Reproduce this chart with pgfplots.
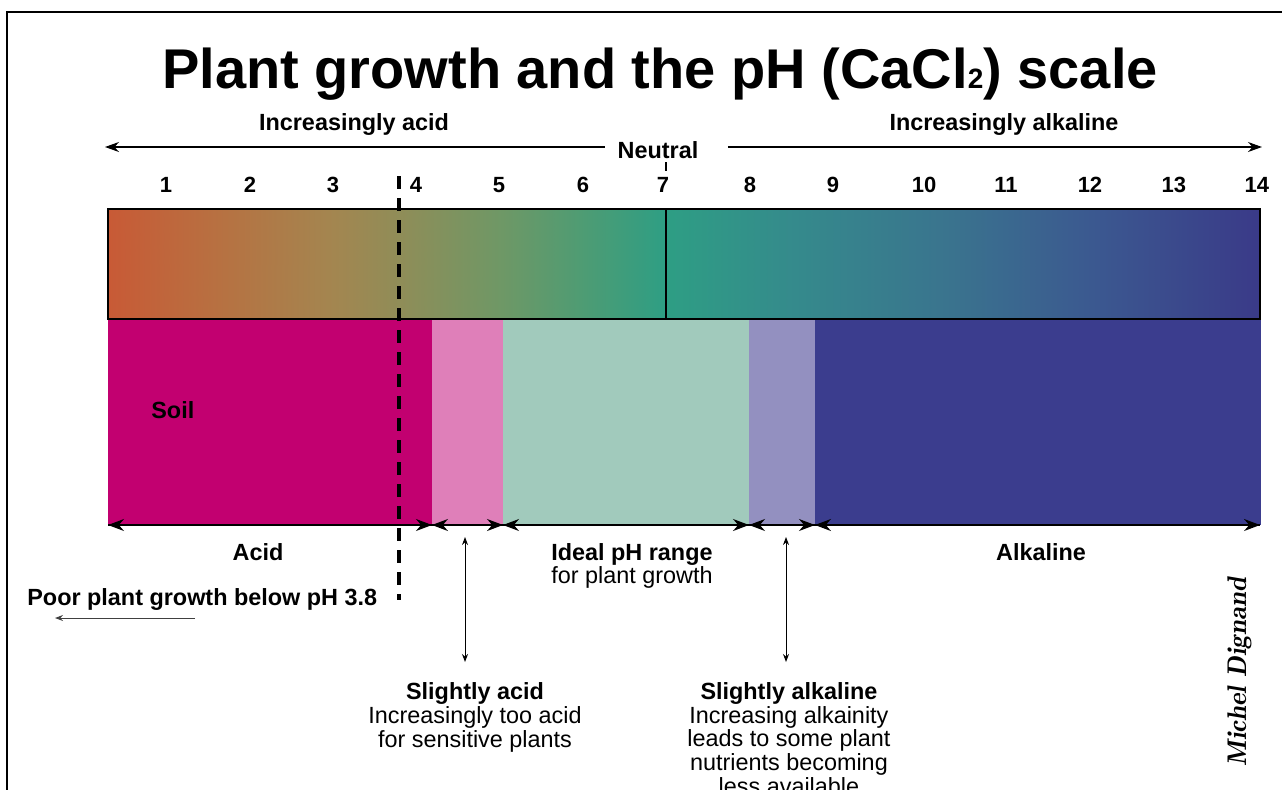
\documentclass[border=0pt]{standalone}
\usepackage{fontspec}
\setmainfont{Liberation Sans}
\usepackage{pgfplots}
\pgfplotsset{compat=1.18}
\usetikzlibrary{arrows.meta}
\definecolor{acidc}{HTML}{C20070}
\definecolor{slacidc}{HTML}{DF7FB9}
\definecolor{idealc}{HTML}{A1CABC}
\definecolor{slalkc}{HTML}{9390C0}
\definecolor{alkc}{HTML}{3B3D8E}
\newcommand\lab{\fontsize{11.7}{14}\selectfont\bfseries}
\newcommand\labn{\fontsize{11.7}{14}\selectfont}
\newcommand\num{\fontsize{11}{13}\selectfont\bfseries}
\begin{document}
\begin{tikzpicture}
\begin{axis}[
  width=641pt, height=394.5pt, scale only axis,
  xmin=-0.9785, xmax=14.3016, ymin=0, ymax=789, y dir=reverse,
  hide axis, clip=false,
  colormap={phmap}{rgb255(0.309cm)=(200,90,54) rgb255(1.7cm)=(182,114,66) rgb255(3.0cm)=(163,134,80) rgb255(3.8cm)=(143,141,88) rgb255(5.0cm)=(110,152,102) rgb255(6.0cm)=(77,156,116) rgb255(6.96cm)=(46,158,132) rgb255(8.5cm)=(53,138,140) rgb255(10.3cm)=(58,116,142) rgb255(12.1cm)=(59,88,144) rgb255(14.04cm)=(58,58,136)},
  point meta min=0.309, point meta max=14.04,
]
% frame
\addplot[black, line width=1pt] coordinates {(-0.895,800) (-0.895,12) (14.5,12)};
% coloured bands
\addplot[fill=acidc, draw=none] coordinates {(0.309,319) (4.17,319) (4.17,525) (0.309,525)} -- cycle;
\addplot[fill=slacidc, draw=none] coordinates {(4.17,319) (5.017,319) (5.017,525) (4.17,525)} -- cycle;
\addplot[fill=idealc, draw=none] coordinates {(5.017,319) (7.949,319) (7.949,525) (5.017,525)} -- cycle;
\addplot[fill=slalkc, draw=none] coordinates {(7.949,319) (8.735,319) (8.735,525) (7.949,525)} -- cycle;
\addplot[fill=alkc, draw=none] coordinates {(8.735,319) (14.05,319) (14.05,525) (8.735,525)} -- cycle;
% gradient bar
\addplot[patch, patch type=rectangle, shader=interp, point meta=x] coordinates {
(0.309,319) (1.7,319) (1.7,209) (0.309,209)
(1.7,319) (3.0,319) (3.0,209) (1.7,209)
(3.0,319) (3.8,319) (3.8,209) (3.0,209)
(3.8,319) (5.0,319) (5.0,209) (3.8,209)
(5.0,319) (6.0,319) (6.0,209) (5.0,209)
(6.0,319) (6.96,319) (6.96,209) (6.0,209)
(6.96,319) (8.5,319) (8.5,209) (6.96,209)
(8.5,319) (10.3,319) (10.3,209) (8.5,209)
(10.3,319) (12.1,319) (12.1,209) (10.3,209)
(12.1,319) (14.04,319) (14.04,209) (12.1,209)
};
\addplot[draw=black, line width=1.2pt] coordinates {(0.309,209) (14.04,209) (14.04,319) (0.309,319)} -- cycle;
\addplot[black, line width=1pt] coordinates {(6.96,209) (6.96,319)};
\addplot[black, line width=0.8pt] coordinates {(6.96,162) (6.96,171)};
% bottom line and range arrows
\addplot[black, line width=0.6pt] coordinates {(0.309,525) (14.04,525)};
\addplot[black, line width=0.6pt, {Stealth[length=8pt,width=6pt]}-{Stealth[length=8pt,width=6pt]}] coordinates {(0.309,525) (4.17,525)};
\addplot[black, line width=0.6pt, {Stealth[length=8pt,width=6pt]}-{Stealth[length=8pt,width=6pt]}] coordinates {(4.17,525) (5.017,525)};
\addplot[black, line width=0.6pt, {Stealth[length=8pt,width=6pt]}-{Stealth[length=8pt,width=6pt]}] coordinates {(5.017,525) (7.949,525)};
\addplot[black, line width=0.6pt, {Stealth[length=8pt,width=6pt]}-{Stealth[length=8pt,width=6pt]}] coordinates {(7.949,525) (8.735,525)};
\addplot[black, line width=0.6pt, {Stealth[length=8pt,width=6pt]}-{Stealth[length=8pt,width=6pt]}] coordinates {(8.735,525) (14.04,525)};
% dashed pH 3.8
\addplot[black, line width=2.2pt, dash pattern=on 6.5pt off 4.5pt] coordinates {(3.78,176) (3.78,600)};
% top arrows
\addplot[black, line width=0.6pt, -{Stealth[length=7pt,width=5pt]}] coordinates {(6.232,147) (0.273,147)};
\addplot[black, line width=0.6pt, -{Stealth[length=7pt,width=5pt]}] coordinates {(7.698,147) (14.063,147)};
% vertical arrows
\addplot[black, line width=0.5pt, {Stealth[length=4pt,width=3pt]}-{Stealth[length=4pt,width=3pt]}] coordinates {(4.564,537) (4.564,662)};
\addplot[black, line width=0.5pt, {Stealth[length=4pt,width=3pt]}-{Stealth[length=4pt,width=3pt]}] coordinates {(8.39,537) (8.39,662)};
% poor growth arrow
\addplot[black!75, line width=0.5pt, -{Stealth[length=4pt,width=3pt]}] coordinates {(1.346,618) (-0.323,618)};
% texts
\node[anchor=base, font=\fontsize{28}{32}\selectfont\bfseries] at (axis cs:6.888,88) {Plant growth and the pH (CaCl{\fontsize{14}{14}\selectfont 2}) scale};
\node[anchor=base, font=\lab] at (axis cs:3.241,130) {Increasingly acid};
\node[anchor=base, font=\lab] at (axis cs:10.988,130) {Increasingly alkaline};
\node[anchor=base, font=\lab] at (axis cs:6.864,158) {Neutral};
\node[anchor=base, font=\num] at (axis cs:1.0,192) {1};
\node[anchor=base, font=\num] at (axis cs:2.001,192) {2};
\node[anchor=base, font=\num] at (axis cs:2.990,192) {3};
\node[anchor=base, font=\num] at (axis cs:3.980,192) {4};
\node[anchor=base, font=\num] at (axis cs:4.969,192) {5};
\node[anchor=base, font=\num] at (axis cs:5.970,192) {6};
\node[anchor=base, font=\num] at (axis cs:6.924,192) {7};
\node[anchor=base, font=\num] at (axis cs:7.961,192) {8};
\node[anchor=base, font=\num] at (axis cs:8.950,192) {9};
\node[anchor=base, font=\num] at (axis cs:10.035,192) {10};
\node[anchor=base, font=\num] at (axis cs:11.012,192) {11};
\node[anchor=base, font=\num] at (axis cs:12.013,192) {12};
\node[anchor=base, font=\num] at (axis cs:13.014,192) {13};
\node[anchor=base, font=\num] at (axis cs:14.003,192) {14};
\node[anchor=base west, inner sep=0pt, font=\lab] at (axis cs:0.821,418) {Soil};
\node[anchor=base, font=\lab] at (axis cs:2.097,560) {Acid};
\node[anchor=base, font=\lab] at (axis cs:6.554,560) {Ideal pH range};
\node[anchor=base, font=\labn] at (axis cs:6.554,583) {for plant growth};
\node[anchor=base, font=\lab] at (axis cs:11.429,560) {Alkaline};
\node[anchor=base west, inner sep=0pt, font=\lab] at (axis cs:-0.657,605) {Poor plant growth below pH 3.8};
\node[anchor=base, font=\lab] at (axis cs:4.683,699) {Slightly acid};
\node[anchor=base, font=\labn] at (axis cs:4.683,723) {Increasingly too acid};
\node[anchor=base, font=\labn] at (axis cs:4.683,747) {for sensitive plants};
\node[anchor=base, font=\lab] at (axis cs:8.425,699) {Slightly alkaline};
\node[anchor=base, font=\labn] at (axis cs:8.425,723) {Increasing alkainity};
\node[anchor=base, font=\labn] at (axis cs:8.425,746) {leads to some plant};
\node[anchor=base, font=\labn] at (axis cs:8.425,770) {nutrients becoming};
\node[anchor=base, font=\labn] at (axis cs:8.425,794) {less available};
\node[rotate=90, font=\fontfamily{lmr}\fontsize{13.5}{14}\selectfont\bfseries\itshape] at (axis cs:13.801,672) {Michel Dignand};
\coordinate (bl) at (axis cs:-0.9785,789);
\coordinate (tr) at (axis cs:14.3016,0);
\end{axis}
\pgfresetboundingbox
\useasboundingbox (bl) rectangle (tr);
\end{tikzpicture}
\end{document}
